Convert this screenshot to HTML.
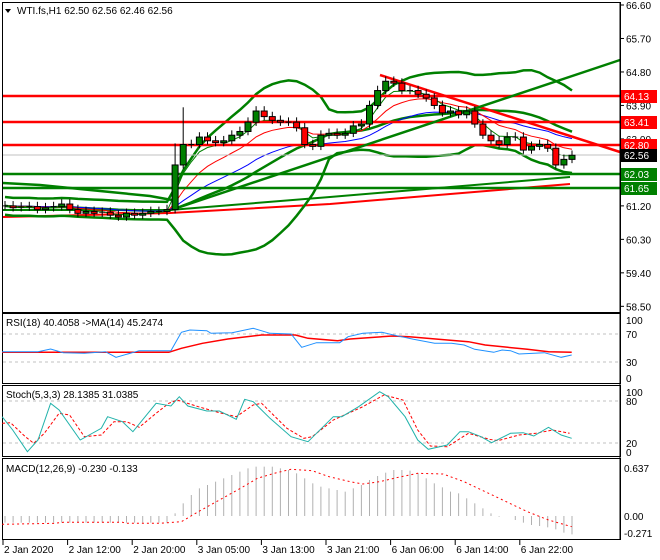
<!DOCTYPE html>
<html><head><meta charset="utf-8"><style>
body{margin:0;background:#fff;width:660px;height:560px;overflow:hidden}
svg{display:block}
text{font-family:"Liberation Sans",sans-serif;font-size:10px}
</style></head><body>
<svg id="s" width="660" height="560" xmlns="http://www.w3.org/2000/svg"></svg>
<script>
var S=document.getElementById('s'),o='';
function L(x1,y1,x2,y2,c,w,d){o+='<line x1="'+x1+'" y1="'+y1+'" x2="'+x2+'" y2="'+y2+'" stroke="'+c+'" stroke-width="'+(w||1)+'"'+(d?' stroke-dasharray="'+d+'"':'')+'/>';}
function P(pts,c,w,d,clip){o+='<polyline fill="none" points="'+pts.map(function(p){return p[0].toFixed(1)+','+p[1].toFixed(1)}).join(' ')+'" stroke="'+c+'" stroke-width="'+(w||1)+'"'+(d?' stroke-dasharray="'+d+'"':'')+(clip?' clip-path="url(#'+clip+')"':'')+'/>';}
function T(x,y,t,c,a){o+='<text x="'+x+'" y="'+y+'" fill="'+(c||'#000')+'"'+(a?' text-anchor="'+a+'"':'')+'>'+t+'</text>';}
function R(x,y,w,h,f,s){o+='<rect x="'+x+'" y="'+y+'" width="'+w+'" height="'+h+'" fill="'+(f||'none')+'"'+(s?' stroke="'+s+'"':'')+'/>';}
o+='<defs><clipPath id="m"><rect x="3" y="3" width="617" height="309"/></clipPath></defs>';
function Y(p){return 5+(66.6-p)*37.2;}
function X(i){return 5+i*8.1;}
var C=[61.2,61.15,61.17,61.18,61.1,61.15,61.18,61.25,61.1,61.0,61.05,61.0,61.03,60.95,60.9,61.0,60.95,61.0,61.05,61.05,61.1,
62.3,62.85,62.85,63.05,62.95,62.9,62.95,63.1,63.2,63.45,63.75,63.6,63.5,63.45,63.45,63.3,62.85,62.8,63.1,63.15,63.1,63.15,63.35,63.4,63.9,64.3,64.55,64.5,64.3,64.3,64.2,64.1,63.9,63.7,63.75,63.65,63.75,63.4,63.1,62.95,62.85,63.05,63.05,62.7,62.8,62.85,62.75,62.3,62.45,62.56];
var N=C.length;
P([[3,210],[170,210],[330,197],[570,177]],'#008000',2);
P([[3,217],[170,213],[330,204],[570,184]],'#ff0000',2);
P([[3,183],[40,185],[100,191],[150,196],[172,200]],'#008000',2.5);
var up=[],mid=[],lo=[];
for(var i=0;i<N;i++){var s=Math.max(0,i-19),a=C.slice(s,i+1),m=a.reduce(function(x,y){return x+y},0)/a.length,v=0;a.forEach(function(x){v+=(x-m)*(x-m)});v=Math.sqrt(v/a.length);v=Math.max(v,0.12);
up.push([X(i),Y(m+2*v)]);mid.push([X(i),Y(m)]);lo.push([X(i),Y(m-2*v)]);}
P(up,'#008000',2.5,0,'m');P(mid,'#008000',2.5,0,'m');P(lo,'#008000',2.5,0,'m');
function ema(p){var r=[],e=C[0],k=2/(p+1);for(var i=0;i<N;i++){e=C[i]*k+e*(1-k);r.push([X(i),Y(e)]);}return r;}
P(ema(20),'#0000ff',1);P(ema(9),'#ff0000',1);P(ema(4),'#008000',1);
L(3,155,620,155,'#c0c0c0',1);
[[96,'#ff0000'],[122,'#ff0000'],[145,'#ff0000']].forEach(function(h){L(3,h[0],620,h[0],h[1],2.5)});
[[174,'#008000'],[188,'#008000']].forEach(function(h){L(3,h[0],620,h[0],h[1],2.5)});
L(380,75,620,152,'#ff0000',2.5);
L(180,207,620,60,'#008000',2.5);
for(var i=0;i<N;i++){var c=C[i],op=i?C[i-1]:c,x=X(i),hi=Math.max(op,c)+0.08+(i>20&&i<23?0.5:0.05),lw=Math.min(op,c)-0.1;
if(i==22)hi=63.85;L(x,Y(hi),x,Y(lw),'#000',1);
var t=Math.min(Y(op),Y(c)),h=Math.abs(Y(op)-Y(c));
if(h<1.5){L(x-3,Y(c),x+3,Y(c),'#000',1)}else R(x-3,t,6,h,c>=op?'#008000':'#ff0000','#000');}
R(2.5,2.5,618,310,'none','#000');R(2.5,313.5,618,70,'none','#000');R(2.5,385.5,618,71,'none','#000');R(2.5,458.5,618,81,'none','#000');
L(620,2,620,540,'#000',1);
[66.6,65.7,64.8,63.9,63.0,62.1,61.2,60.3,59.4,58.5].forEach(function(p){var y=Y(p);L(620,y,624,y,'#000');T(626,y+4,p.toFixed(2));});
function box(y,t,f){R(621,y-6,36,13,f);T(624,y+4,t,'#fff');}
box(96,'64.13','#ff0000');box(122,'63.41','#ff0000');box(145,'62.80','#ff0000');box(155,'62.56','#000');box(174,'62.03','#008000');box(188,'61.65','#008000');
o+='<polygon points="5,9 11,9 8,13" fill="#000"/>';T(17,14,'WTI.fs,H1  62.50 62.56 62.46 62.56');
function Z(a){return a.map(function(p){return [p[0]/2.37,p[1]/3+300]})}
L(3,334,620,334,'#c0c0c0',1,'3,3');L(3,362,620,362,'#c0c0c0',1,'3,3');
P(Z([[5,157],[400,157],[430,145],[480,130],[540,117],[620,105],[700,105],[730,115],[800,122],[830,117],[930,108],[970,110],[1060,120],[1110,125],[1150,135],[1250,148],[1300,155],[1355,157]]),'#ff0000',1.5);
P(Z([[5,155],[90,155],[120,147],[150,158],[200,160],[250,155],[275,172],[330,152],[405,152],[430,97],[450,90],[490,92],[500,100],[550,98],[600,85],[640,100],[690,102],[715,142],[750,128],[805,128],[825,110],[860,100],[905,97],[940,107],[980,118],[1030,130],[1070,130],[1100,135],[1125,148],[1170,157],[1190,150],[1210,152],[1230,162],[1290,158],[1330,172],[1355,165]]),'#1e90ff',1);
T(6,326,'RSI(18) 40.4058  -&gt;MA(14) 45.2474');
[[100,321],[70,335],[30,363],[0,379]].forEach(function(a){T(626,a[1]+3,a[0])});
L(3,401,620,401,'#c0c0c0',1,'3,3');L(3,443,620,443,'#c0c0c0',1,'3,3');
P(Z([[5,370],[25,368],[60,410],[80,430],[105,400],[140,340],[165,345],[200,410],[240,405],[270,365],[300,365],[330,382],[370,340],[400,310],[420,300],[470,320],[520,338],[560,350],[600,315],[620,310],[680,385],[720,415],[740,410],[790,360],[860,320],[910,285],[955,300],[990,390],[1020,438],[1060,440],[1110,400],[1160,418],[1180,422],[1230,405],[1270,400],[1310,390],[1350,400]]),'#ff0000',1,'3,2');
P(Z([[5,350],[30,390],[65,455],[90,420],[120,310],[140,330],[190,420],[240,385],[255,350],[290,365],[315,395],[370,310],[405,318],[425,290],[445,318],[490,333],[520,333],[560,358],[580,298],[600,305],[640,355],[690,410],[730,425],[790,350],[810,350],[850,320],[900,275],[920,290],[960,350],[990,420],[1015,448],[1060,435],[1090,395],[1110,395],[1140,410],[1165,428],[1210,400],[1240,398],[1265,408],[1300,382],[1330,405],[1355,415]]),'#20b2aa',1);
T(6,398,'Stoch(5,3,3) 28.1385 31.0385');
[[100,393],[80,402],[20,444],[0,453]].forEach(function(a){T(626,a[1]+3,a[0])});
var H=[];for(var i=0;i<21;i++)H.push(668);
H=H.concat([640,610,585,565,555,545,535,525,515,505,500,500,500,505,510,520,535,550,560,565,570,575,565,555,540,528,518,510,510,512,520,535,550,562,575,580,595,610,625,640,650,648,660,668,675,678,682,688,698,703]);
H.forEach(function(h,i){L(X(i),516,X(i),h/3+300,'#b0b0b0',1)});
P(Z([[5,673],[130,670],[150,667],[290,667],[300,670],[380,670],[430,665],[470,635],[520,600],[570,565],[610,535],[650,520],[690,508],[740,512],[780,530],[830,545],[860,552],[900,545],[940,533],[990,520],[1050,522],[1100,545],[1150,575],[1200,605],[1250,635],[1300,660],[1355,680]]),'#ff0000',1,'2,3');
T(6,472,'MACD(12,26,9) -0.230 -0.133');
[['0.637',468],['0.00',516],['-0.271',533]].forEach(function(a){T(624,a[1]+4,a[0])});
var tl=['2 Jan 2020','2 Jan 12:00','2 Jan 20:00','3 Jan 05:00','3 Jan 13:00','3 Jan 21:00','6 Jan 06:00','6 Jan 14:00','6 Jan 22:00'];
tl.forEach(function(t,i){var x=3+i*64.6;L(x,540,x,545,'#000');T(x+1,553,t);});
S.innerHTML=o;
</script>
</body></html>
